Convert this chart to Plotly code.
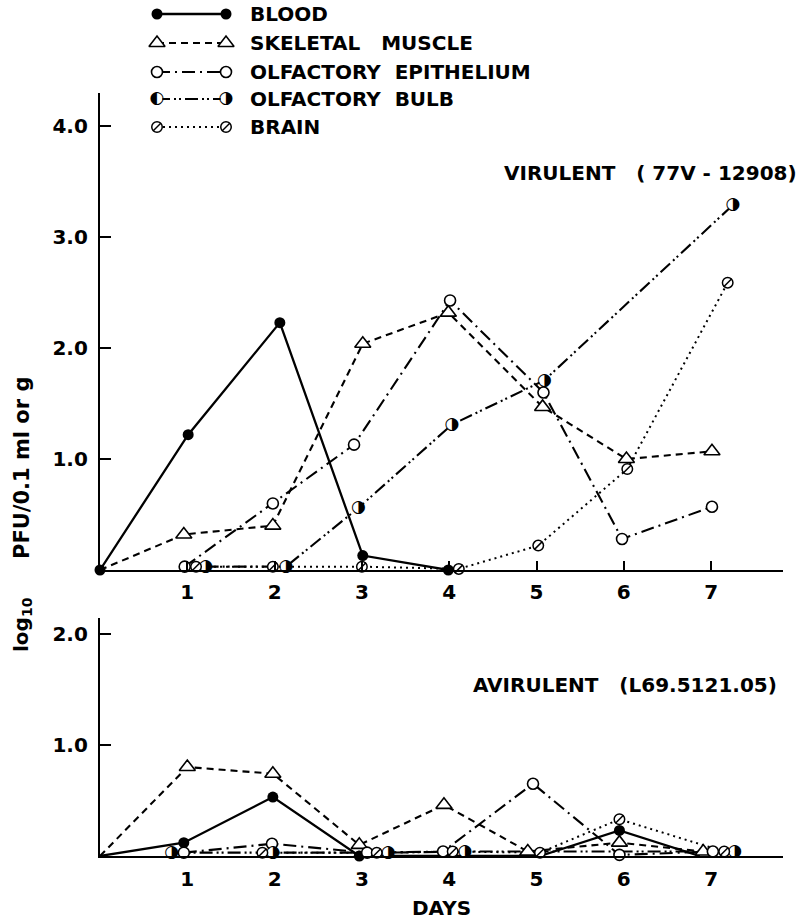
import plotly.graph_objects as go

# ---------------- data ----------------
SERIES = ["BLOOD", "SKELETAL MUSCLE", "OLFACTORY EPITHELIUM", "OLFACTORY BULB", "BRAIN"]
LEGEND_LABELS = ["BLOOD", "SKELETAL\u00a0\u00a0\u00a0MUSCLE", "OLFACTORY\u00a0\u00a0EPITHELIUM",
                 "OLFACTORY\u00a0\u00a0BULB", "BRAIN"]

DAY_TICKS = [1, 2, 3, 4, 5, 6, 7]
DAY_TICK_LABELS = ["1", "2", "3", "4", "5", "6", "7"]
VIR_Y_TICKS = [1, 2, 3, 4]
VIR_Y_LABELS = ["1.0", "2.0", "3.0", "4.0"]
AV_Y_TICKS = [1, 2]
AV_Y_LABELS = ["1.0", "2.0"]

# Virulent strain (77V-12908)
VIR_BLOOD_DAY = [0, 1.01, 2.06, 3.01, 3.99]
VIR_BLOOD_LOG = [0, 1.22, 2.23, 0.13, 0.0]
VIR_MUSCLE_DAY = [0, 0.96, 1.98, 3.01, 3.99, 5.07, 6.03, 7.01]
VIR_MUSCLE_LOG = [0, 0.32, 0.40, 2.04, 2.32, 1.47, 1.00, 1.07]
VIR_EPITH_DAY = [0.97, 1.98, 2.91, 4.01, 5.08, 5.98, 7.01]
VIR_EPITH_LOG = [0.03, 0.60, 1.13, 2.43, 1.60, 0.28, 0.57]
VIR_BULB_DAY = [1.21, 2.13, 2.96, 4.03, 5.09, 7.25]
VIR_BULB_LOG = [0.03, 0.03, 0.56, 1.31, 1.71, 3.29]
VIR_BRAIN_DAY = [1.10, 1.98, 3.00, 4.11, 5.02, 6.04, 7.19]
VIR_BRAIN_LOG = [0.03, 0.03, 0.03, 0.01, 0.22, 0.91, 2.59]

# Avirulent strain (L69.5121.05)
AV_BLOOD_DAY = [0, 0.96, 1.98, 2.97, 5.04, 5.95, 6.87]
AV_BLOOD_LOG = [0, 0.12, 0.53, 0.0, 0.0, 0.23, 0.0]
AV_MUSCLE_DAY = [0, 1.00, 1.98, 2.97, 3.94, 4.90, 5.95, 6.91]
AV_MUSCLE_LOG = [0, 0.80, 0.74, 0.10, 0.46, 0.04, 0.12, 0.04]
AV_EPITH_DAY = [0.96, 1.97, 3.06, 3.93, 4.96, 5.95, 7.02]
AV_EPITH_LOG = [0.03, 0.11, 0.03, 0.04, 0.65, 0.01, 0.04]
AV_BULB_DAY = [0.82, 1.98, 3.30, 4.18, 7.27]
AV_BULB_LOG = [0.03, 0.03, 0.03, 0.04, 0.04]
AV_BRAIN_DAY = [1.86, 3.17, 4.04, 5.04, 5.95, 7.15]
AV_BRAIN_LOG = [0.03, 0.03, 0.04, 0.03, 0.33, 0.04]

# points drawn as line vertices only (no symbol)
UNMARKED = {("vir", "SKELETAL MUSCLE"): [0],
            ("av", "BLOOD"): [0, 4, 6],
            ("av", "SKELETAL MUSCLE"): [0]}

# ---------------- styles / layout ----------------
FONT = "DejaVu Sans"
W, H = 804, 922
ML, MR, MT, MB = 100, 21, 0, 66
PW = W - ML - MR
PH = H - MT - MB


def px_x(p):
    return (p - ML) / PW


def px_y(p):
    return (H - MB - p) / PH


STYLES = {
    "BLOOD": dict(dash="solid", width=2.3, kind="filled"),
    "SKELETAL MUSCLE": dict(dash="7px,5px", width=2.1, kind="triangle"),
    "OLFACTORY EPITHELIUM": dict(dash="13px,5px,2px,5px", width=2.1, kind="open"),
    "OLFACTORY BULB": dict(dash="13px,4px,2px,3px,2px,4px", width=2.1, kind="half"),
    "BRAIN": dict(dash="2px,4px", width=2.0, kind="slash"),
}

fig = go.Figure()


def base(xs, ys, xa, ya):
    return dict(x=xs, y=ys, xaxis=xa, yaxis=ya, cliponaxis=False,
                showlegend=False, hoverinfo="skip")


def add_lines(days, logs, name, xa, ya):
    st = STYLES[name]
    fig.add_trace(go.Scatter(mode="lines",
                             line=dict(color="black", width=st["width"], dash=st["dash"]),
                             **base(days, logs, xa, ya)))


def add_marks(days, logs, name, xa, ya, skip=(), glyphs=None):
    xs = [d for i, d in enumerate(days) if i not in skip]
    ys = [v for i, v in enumerate(logs) if i not in skip]
    kind = STYLES[name]["kind"]
    b = base(xs, ys, xa, ya)
    if kind == "filled":
        fig.add_trace(go.Scatter(mode="markers",
                                 marker=dict(symbol="circle", size=11, color="black"), **b))
    elif kind == "triangle":
        fig.add_trace(go.Scatter(mode="markers",
                                 marker=dict(symbol="triangle-up", size=14, color="white",
                                             line=dict(color="black", width=1.6)), **b))
    elif kind == "open":
        fig.add_trace(go.Scatter(mode="markers",
                                 marker=dict(symbol="circle", size=11, color="white",
                                             line=dict(color="black", width=1.6)), **b))
    elif kind == "half":
        fig.add_trace(go.Scatter(mode="markers",
                                 marker=dict(symbol="circle", size=11, color="white",
                                             line=dict(width=0)), **b))
        g = glyphs if glyphs else ["\u25d1"] * len(xs)
        fig.add_trace(go.Scatter(mode="text", text=g, textposition="middle center",
                                 textfont=dict(family=FONT, size=17, color="black"), **b))
    elif kind == "slash":
        fig.add_trace(go.Scatter(mode="markers",
                                 marker=dict(symbol="circle", size=10.5, color="white",
                                             line=dict(color="black", width=1.5)), **b))
        fig.add_trace(go.Scatter(mode="markers",
                                 marker=dict(symbol="line-ne", size=8,
                                             line=dict(color="black", width=1.5)), **b))


panels = [
    ("vir", "x2", "y2", [(VIR_BLOOD_DAY, VIR_BLOOD_LOG), (VIR_MUSCLE_DAY, VIR_MUSCLE_LOG),
                          (VIR_EPITH_DAY, VIR_EPITH_LOG), (VIR_BULB_DAY, VIR_BULB_LOG),
                          (VIR_BRAIN_DAY, VIR_BRAIN_LOG)]),
    ("av", "x", "y", [(AV_BLOOD_DAY, AV_BLOOD_LOG), (AV_MUSCLE_DAY, AV_MUSCLE_LOG),
                       (AV_EPITH_DAY, AV_EPITH_LOG), (AV_BULB_DAY, AV_BULB_LOG),
                       (AV_BRAIN_DAY, AV_BRAIN_LOG)]),
]

for key, xa, ya, data in panels:
    for name, (d, v) in zip(SERIES, data):
        add_lines(d, v, name, xa, ya)
    for name, (d, v) in zip(SERIES, data):
        add_marks(d, v, name, xa, ya, skip=UNMARKED.get((key, name), []))

# ---------------- legend (drawn on a pixel overlay axis) ----------------
LEG_X0, LEG_X1, LEG_TEXT_X = 157, 226, 248
LEG_ROW_Y = [14, 43, 72, 99, 127]
for name, label, ry in zip(SERIES, LEGEND_LABELS, LEG_ROW_Y):
    add_lines([LEG_X0, LEG_X1], [ry, ry], name, "x3", "y3")
    add_marks([LEG_X0, LEG_X1], [ry, ry], name, "x3", "y3", glyphs=["\u25d0", "\u25d1"])
    fig.add_annotation(x=px_x(LEG_TEXT_X), y=px_y(ry), xref="paper", yref="paper",
                       text=label, showarrow=False, xanchor="left", yanchor="middle",
                       font=dict(family=FONT, size=20, color="black", weight="bold"))

# ---------------- text ----------------
TXT = dict(family=FONT, size=20, color="black", weight="bold")
fig.add_annotation(x=px_x(799), y=px_y(173), xref="paper", yref="paper",
                   text="VIRULENT\u00a0\u00a0\u00a0(\u00a077V\u00a0-\u00a012908)", showarrow=False,
                   xanchor="right", yanchor="middle", font=TXT)
fig.add_annotation(x=px_x(779), y=px_y(685), xref="paper", yref="paper",
                   text="AVIRULENT\u00a0\u00a0\u00a0(L69.5121.05)", showarrow=False,
                   xanchor="right", yanchor="middle", font=TXT)
fig.add_annotation(x=px_x(441), y=px_y(908), xref="paper", yref="paper",
                   text="DAYS", showarrow=False, xanchor="center", yanchor="middle", font=TXT)
fig.add_annotation(x=px_x(22), y=px_y(625), xref="paper", yref="paper",
                   text="log<sub>10</sub>", showarrow=False, textangle=-90,
                   xanchor="center", yanchor="middle", font=TXT)
fig.add_annotation(x=px_x(22), y=px_y(468), xref="paper", yref="paper",
                   text="PFU/0.1\u00a0ml\u00a0or\u00a0g", showarrow=False, textangle=-90,
                   xanchor="center", yanchor="middle",
                   font=dict(family=FONT, size=21, color="black", weight="bold"))

AX = dict(showline=True, linecolor="black", linewidth=2.3, showgrid=False, zeroline=False,
          tickfont=dict(family=FONT, size=20, color="black", weight="bold"),
          tickcolor="black", tickwidth=2, fixedrange=True)
XR = [0, (W - MR - ML) / 87.3]

fig.update_layout(
    width=W, height=H,
    margin=dict(l=ML, r=MR, t=MT, b=MB, pad=0),
    paper_bgcolor="white", plot_bgcolor="rgba(0,0,0,0)",
    showlegend=False,
    xaxis=dict(domain=[0, 1], range=XR, anchor="y", tickvals=DAY_TICKS,
               ticktext=DAY_TICK_LABELS, ticks="", ticklabelstandoff=4, **AX),
    yaxis=dict(domain=[0, px_y(618)], range=[0, 2.14], anchor="x", tickvals=AV_Y_TICKS,
               ticktext=AV_Y_LABELS, ticks="inside", ticklen=11, ticklabelstandoff=6, **AX),
    xaxis2=dict(domain=[0, 1], range=XR, anchor="y2", tickvals=DAY_TICKS,
                ticktext=DAY_TICK_LABELS, ticks="inside", ticklen=9, ticklabelstandoff=3, **AX),
    yaxis2=dict(domain=[px_y(570), px_y(93)], range=[0, 4.30], anchor="x2",
                tickvals=VIR_Y_TICKS, ticktext=VIR_Y_LABELS, ticks="inside", ticklen=11,
                ticklabelstandoff=6, **AX),
    xaxis3=dict(domain=[0, 1], range=[ML, W - MR], anchor="y3", visible=False, fixedrange=True),
    yaxis3=dict(domain=[0, 1], range=[H - MB, MT], anchor="x3", visible=False, fixedrange=True),
)

fig.write_html("out.html", config={"displayModeBar": False},
               post_script="document.body.style.margin='0';")
